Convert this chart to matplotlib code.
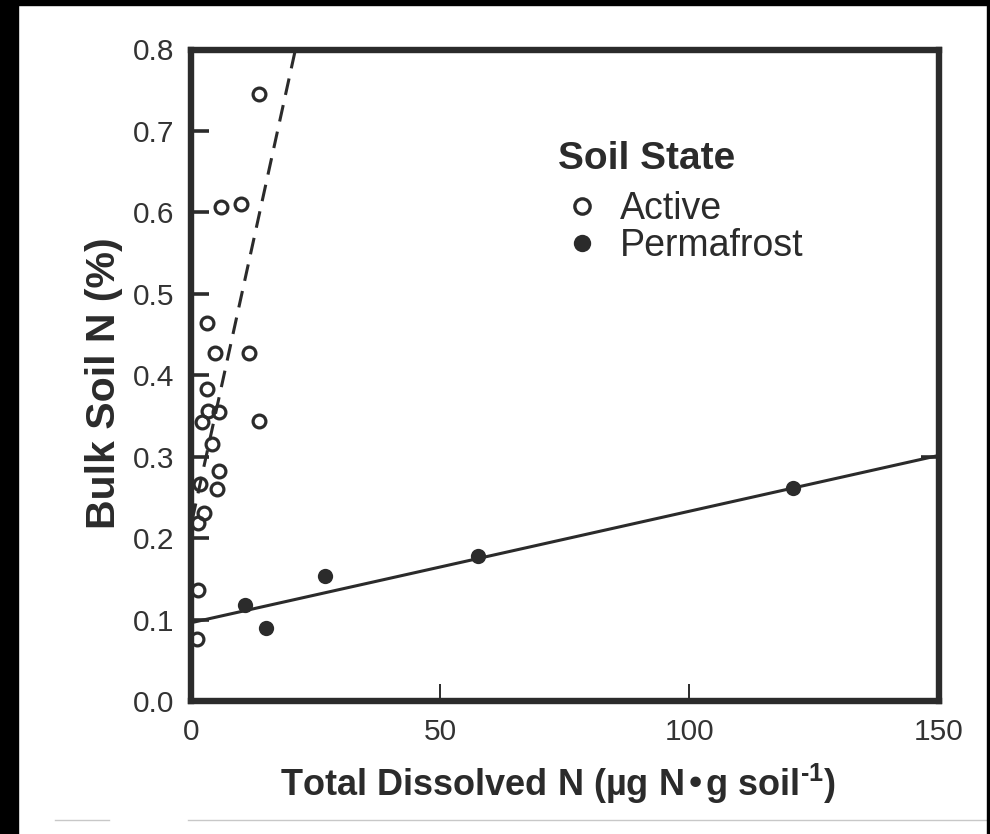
import numpy as np
import matplotlib
matplotlib.use("Agg")
import matplotlib.pyplot as plt
from matplotlib.lines import Line2D
from matplotlib.patches import Rectangle

plt.rcParams["font.family"] = ["Liberation Sans", "DejaVu Sans"]

# Active layer samples: total dissolved N (ug N/g soil) vs bulk soil N (%)
active_tdn = [13.6, 6.1, 10.1, 3.2, 4.9, 11.6, 3.2, 3.5, 5.7, 2.2,
              13.6, 4.3, 5.7, 1.9, 5.2, 2.7, 1.4, 1.5, 1.2]
active_bulk = [0.745, 0.606, 0.610, 0.464, 0.427, 0.427, 0.383, 0.356, 0.355, 0.343,
               0.344, 0.316, 0.282, 0.266, 0.260, 0.231, 0.218, 0.136, 0.076]

# Permafrost samples
perma_tdn = [10.9, 15.2, 26.9, 57.6, 120.8]
perma_bulk = [0.118, 0.090, 0.154, 0.178, 0.262]

# Regression lines (intercept, slope) and their x extents
active_fit = (0.214, 0.0279)
active_fit_x = [0.3, 22.0]
perma_fit = (0.096, 0.00137)
perma_fit_x = [0.0, 150.0]

x_ticks = [0, 50, 100, 150]
y_ticks = [0.0, 0.1, 0.2, 0.3, 0.4, 0.5, 0.6, 0.7, 0.8]
right_ticks = [0.3]

INK = "#2b2b2b"
W, H = 990, 834
AX_L, AX_R, AX_T, AX_B = 190.7, 938.6, 49.5, 701.0

fig = plt.figure(figsize=(W / 100, H / 100), dpi=100)
fig.patch.set_facecolor("white")

ax = fig.add_axes([AX_L / W, (H - AX_B) / H, (AX_R - AX_L) / W, (AX_B - AX_T) / H])
ax.set_xlim(0, 150)
ax.set_ylim(0, 0.8)

# fitted lines
xa = np.array(active_fit_x)
ax.plot(xa, active_fit[0] + active_fit[1] * xa, color=INK, lw=2.2,
        linestyle=(0, (5.5, 3.4)), zorder=1.5)
xp = np.array(perma_fit_x)
ax.plot(xp, perma_fit[0] + perma_fit[1] * xp, color=INK, lw=2.2,
        solid_capstyle="butt", zorder=1.5)

# observations
ax.plot(active_tdn, active_bulk, linestyle="none", marker="o", ms=9.2,
        mfc="none", mec=INK, mew=2.3, zorder=2)
ax.plot(perma_tdn, perma_bulk, linestyle="none", marker="o", ms=11,
        mfc=INK, mec=INK, mew=0, zorder=2)

for side in ["left", "right", "top", "bottom"]:
    ax.spines[side].set_linewidth(4.6)
    ax.spines[side].set_color(INK)

ax.set_xticks(x_ticks)
ax.set_xticklabels([str(v) for v in x_ticks])
ax.set_yticks(y_ticks)
ax.set_yticklabels([f"{v:.1f}" for v in y_ticks])
ax.tick_params(axis="y", direction="in", length=13, width=2.6, color=INK,
               labelsize=21.5, labelcolor="#333333", pad=11.5)
ax.tick_params(axis="x", direction="in", length=12, width=1.4, color=INK,
               labelsize=21.5, labelcolor="#333333", pad=12)

# single inward tick on the right-hand axis
rax = ax.secondary_yaxis("right")
rax.set_yticks(right_ticks)
rax.set_yticklabels([])
rax.tick_params(direction="in", length=13, width=2.6, color=INK)
rax.spines["right"].set_visible(False)

ax.set_ylabel("Bulk Soil N (%)", fontsize=29.5, fontweight="bold", color=INK)
ax.yaxis.set_label_coords((123 - AX_L) / (AX_R - AX_L), (AX_B - 383) / (AX_B - AX_T))
fig.text(558 / W, 1 - 796 / H,
         "Total Dissolved N (µg N•g soil$^{\\mathregular{\u20101}}$)",
         fontsize=26, fontweight="bold", color=INK, ha="center", va="baseline")

# legend
fig.text(558 / W, 1 - 169 / H, "Soil State", fontsize=28, fontweight="bold",
         color=INK, ha="left", va="baseline")
handles = [
    Line2D([], [], linestyle="none", marker="o", ms=11, mfc="none", mec=INK, mew=2.4),
    Line2D([], [], linestyle="none", marker="o", ms=12.5, mfc=INK, mec=INK, mew=0),
]
leg = ax.legend(handles, ["Active", "Permafrost"],
                loc="upper left", bbox_to_anchor=(567 / W, 1 - 191 / H),
                bbox_transform=fig.transFigure, frameon=False, fontsize=27,
                handlelength=0.8, handletextpad=0.6, labelspacing=0.02,
                borderpad=0, borderaxespad=0)
for t in leg.get_texts():
    t.set_color(INK)

# surrounding frame of the page
fig.patches.append(Rectangle((0, 1 - 5 / H), 1, 5 / H, transform=fig.transFigure,
                             color="black", zorder=10))
fig.patches.append(Rectangle((0, 0), 18 / W, 1, transform=fig.transFigure,
                             color="black", zorder=10))
fig.patches.append(Rectangle((987 / W, 0), 3 / W, 1, transform=fig.transFigure,
                             color="black", zorder=10))
for x0, x1 in [(55, 109), (188, 987)]:
    fig.add_artist(Line2D([x0 / W, x1 / W], [1 - 820 / H, 1 - 820 / H],
                          transform=fig.transFigure, color="#c8c8c8", lw=1))

fig.savefig("out.png", dpi=100)
